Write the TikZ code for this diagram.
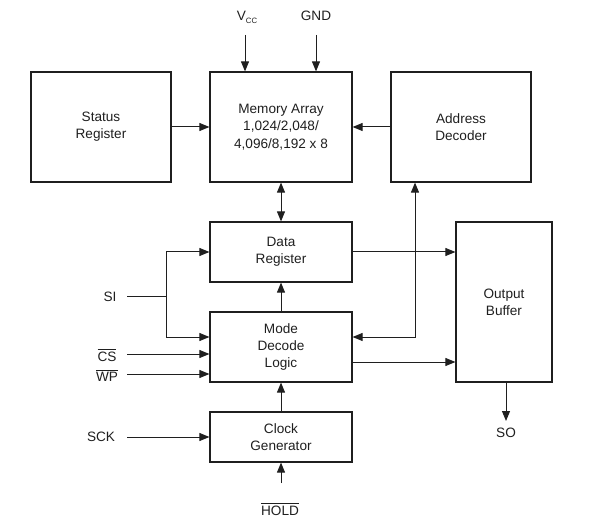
\documentclass[tikz,border=0pt]{standalone}
\usepackage{fontspec}
\setmainfont{Liberation Sans}
\usetikzlibrary{arrows.meta}
\definecolor{ink}{rgb}{0.12,0.12,0.12}
\begin{document}
\begin{tikzpicture}[x=0.75pt,y=-0.75pt,
  every node/.style={font=\fontsize{10.2}{12.9}\selectfont, text=ink},
  blk/.style={draw=ink, line width=0.9pt, align=center, inner sep=0pt},
  lbl/.style={inner sep=1pt},
  ar/.style={draw=ink, line width=0.75pt, -{Triangle[length=7.5pt,width=6pt]}},
  dar/.style={draw=ink, line width=0.75pt, {Triangle[length=7.5pt,width=6pt]}-{Triangle[length=7.5pt,width=6pt]}},
  ln/.style={draw=ink, line width=0.75pt}]
\useasboundingbox (0,0) rectangle (589,527);

% blocks
\node[blk, minimum width=105pt, minimum height=82.5pt] (status) at (101,127) {Status\\Register};
\node[blk, minimum width=106.5pt, minimum height=82.5pt] (mem) at (281,127) {Memory Array\\1,024/2,048/\\4,096/8,192 x 8};
\node[blk, minimum width=105pt, minimum height=82.5pt] (addr) at (461,127) {Address\\Decoder};
\node[blk, minimum width=106.5pt, minimum height=45pt] (data) at (281,252) {Data\\Register};
\node[blk, minimum width=106.5pt, minimum height=52.5pt] (mode) at (281,347) {Mode\\Decode\\Logic};
\node[blk, minimum width=106.5pt, minimum height=37.5pt] (clock) at (281,437) {Clock\\Generator};
\node[blk, minimum width=72pt, minimum height=120pt] (out) at (504,302) {Output\\Buffer};

% labels
\node[lbl] (vcc) at (247,17) {V\raisebox{-0.45ex}{\fontsize{5.8}{6}\selectfont CC}};
\node[lbl] (gnd) at (316,16) {GND};
\node[lbl] (si) at (110,297) {SI};
\node[lbl] (cs) at (107,355) {$\overline{\hbox{CS}}$};
\node[lbl] (wp) at (107,375) {$\overline{\hbox{WP}}$};
\node[lbl] (sck) at (101,437) {SCK};
\node[lbl] (hold) at (280,509) {$\overline{\hbox{HOLD}}$};
\node[lbl] (so) at (506,433) {SO};

% coordinates
\coordinate (vccs) at (245,35);
\coordinate (gnds) at (316,35);
\coordinate (sis) at (127,297);
\coordinate (sij) at (166,297);
\coordinate (css) at (127,354);
\coordinate (wps) at (127,374);
\coordinate (scks) at (127,437);
\coordinate (holds) at (281,483);
\coordinate (soe) at (506,421);

% power
\draw[ar] (vccs) -- (vccs |- mem.north);
\draw[ar] (gnds) -- (gnds |- mem.north);

% top row
\draw[ar] (status.east) -- (mem.west);
\draw[ar] (addr.west) -- (mem.east);
\draw[dar] (mem.south) -- (data.north);

% SI
\draw[ln] (sis) -- (sij);
\draw[ar] (sij) |- (data.west);
\draw[ar] (sij) |- ([yshift=7.5pt]mode.west);
\draw[ar] (css) -- (css -| mode.west);
\draw[ar] (wps) -- (wps -| mode.west);
\draw[ar] (scks) -- (clock.west);
\draw[ar] (holds) -- (clock.south);

% vertical chain
\draw[ar] (clock.north) -- (mode.south);
\draw[ar] (mode.north) -- (data.south);

% address decoder link
\draw[dar] ([yshift=7.5pt]mode.east) -| ([xshift=-34.5pt]addr.south);

% outputs
\draw[ar] (data.east) -- (data.east -| out.west);
\draw[ar] ([yshift=-11.25pt]mode.east) -- ([yshift=-11.25pt]mode.east -| out.west);
\draw[ar] (out.south -| soe) -- (soe);
\end{tikzpicture}
\end{document}
